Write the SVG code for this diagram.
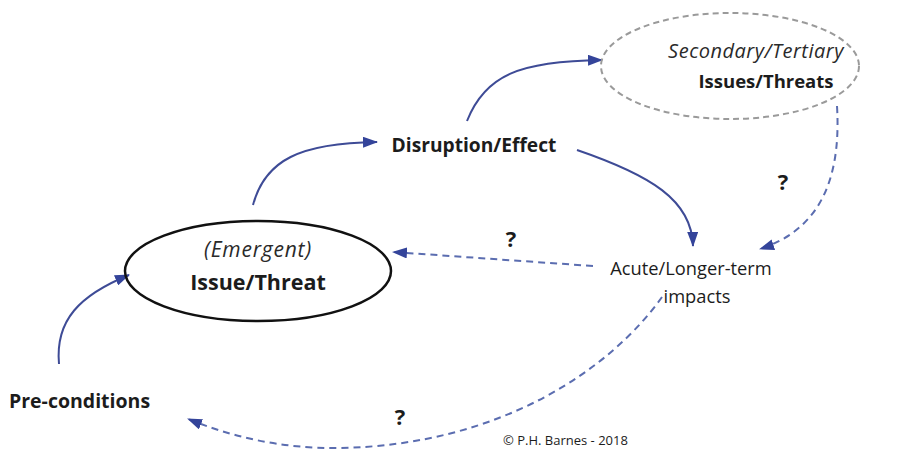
<svg xmlns="http://www.w3.org/2000/svg" width="923" height="452" viewBox="0 0 923 452">
  <style>
    .lbl { font-family: "Open Sans", "Noto Sans", sans-serif; fill: #1c1c1c; }
    .b { font-weight: bold; }
    .it { font-style: italic; fill: #2a2a2a; }
    .solid { fill: none; stroke: #3e4b96; stroke-width: 2; }
    .dash { fill: none; stroke: #5b6db0; stroke-width: 2; stroke-dasharray: 7 5; }
    .q { font-family: "Open Sans", "Noto Sans", sans-serif; font-weight: bold; font-size: 22px; fill: #1c1c1c; }
  </style>
  <defs>
    <marker id="head" viewBox="0 0 15 11" refX="14" refY="5.5" markerWidth="15" markerHeight="11" markerUnits="userSpaceOnUse" orient="auto">
      <path d="M0,0 L15,5.5 L0,11 z" fill="#34449a"/>
    </marker>
  </defs>
  <rect width="923" height="452" fill="#ffffff"/>

  <g id="connectors">
    <path class="solid" d="M253,205 C265,160 300,143 377,142" marker-end="url(#head)"/>
    <path class="solid" d="M467,121 C485,75 520,61 602,60" marker-end="url(#head)"/>
    <path class="solid" d="M577,150 C650,175 692,200 693,246" marker-end="url(#head)"/>
    <path class="solid" d="M59,364 C55,320 80,295 129,275" marker-end="url(#head)"/>
    <path class="dash" d="M837,106 C842,190 812,232 760,249" marker-end="url(#head)"/>
    <path class="dash" d="M593,266 L393,252" marker-end="url(#head)"/>
    <path class="dash" d="M662,297 C610,370 500,445 340,448 C280,449 230,436 188,419" marker-end="url(#head)"/>
  </g>

  <g id="emergent">
    <ellipse cx="258" cy="271" rx="133" ry="50" fill="none" stroke="#111" stroke-width="2.5"/>
    <text class="lbl it" x="258" y="257" font-size="21" letter-spacing="0.8" text-anchor="middle">(Emergent)</text>
    <text class="lbl b" x="258" y="290" font-size="21.5" text-anchor="middle">Issue/Threat</text>
  </g>

  <g id="secondary">
    <ellipse cx="730" cy="66" rx="129" ry="53" fill="none" stroke="#9a9a9a" stroke-width="2" stroke-dasharray="6 4"/>
    <text class="lbl it" x="756" y="58" font-size="20" letter-spacing="0.5" text-anchor="middle">Secondary/Tertiary</text>
    <text class="lbl b" x="766" y="88" font-size="18.5" text-anchor="middle">Issues/Threats</text>
  </g>

  <g id="disruption">
    <text class="lbl b" x="474" y="152" font-size="19.2" text-anchor="middle">Disruption/Effect</text>
  </g>

  <g id="impacts">
    <text class="lbl" x="691" y="275" font-size="18.3" text-anchor="middle">Acute/Longer-term</text>
    <text class="lbl" x="697" y="303" font-size="18.3" text-anchor="middle">impacts</text>
  </g>

  <g id="preconditions">
    <text class="lbl b" x="9" y="408" font-size="19.5">Pre-conditions</text>
  </g>

  <g id="questions">
    <text class="q" x="783" y="190" text-anchor="middle">?</text>
    <text class="q" x="511" y="247" text-anchor="middle">?</text>
    <text class="q" x="400" y="425" text-anchor="middle">?</text>
  </g>

  <text class="lbl" x="503" y="445" font-size="13" fill="#444">© P.H. Barnes - 2018</text>
</svg>
